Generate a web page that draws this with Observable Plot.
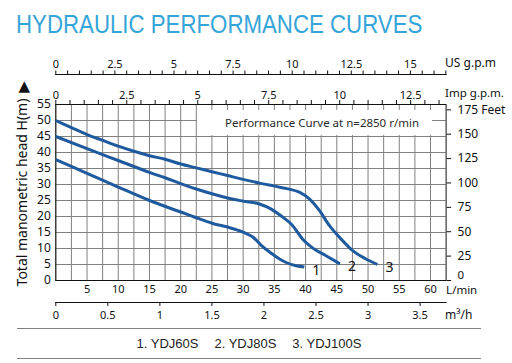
<!DOCTYPE html>
<html><head><meta charset="utf-8">
<script src="https://cdn.jsdelivr.net/npm/d3@7"></script>
<script src="https://cdn.jsdelivr.net/npm/@observablehq/plot@0.6"></script>
<style>
body{margin:0;background:#fff;}
#wrap{position:relative;width:512px;height:363px;overflow:hidden;font-family:"Noto Sans",sans-serif;background:#fff;}
#title{position:absolute;left:16px;top:12px;font:25px/25px "Liberation Sans",Arial,sans-serif;color:#35a4d8;white-space:nowrap;transform:scaleX(0.89);transform-origin:0 0;}
#chart{position:absolute;left:0;top:0;}
#note{position:absolute;left:197px;top:110px;width:235px;height:25px;background:#fff;box-sizing:border-box;padding-left:28px;font-size:11.5px;line-height:25px;color:#2a2a2a;white-space:nowrap;}
#legend{position:absolute;left:17px;top:328px;width:464px;height:29px;border-top:1px solid #808080;border-bottom:1px solid #808080;text-align:center;font:13px/29px "Liberation Sans",Arial,sans-serif;color:#222;white-space:nowrap;}
#legend span{margin:0 8px;}
</style></head>
<body><div id="wrap">
<div id="title">HYDRAULIC PERFORMANCE CURVES</div>
<div id="chart"></div>
<div id="note">Performance Curve at n=2850 r/min</div>
<div id="legend"></div>
</div>
<script>
// ---- data ----
const curveLabels = ["1", "2", "3"];
const modelNames = ["YDJ60S", "YDJ80S", "YDJ100S"];
const noteText = "Performance Curve at n=2850 r/min";

const flow1 = [0, 5, 10, 15, 20, 22.5, 25, 27.5, 30, 31.6, 32.9, 34.5, 36.8, 38.5, 39.8];
const head1 = [37.8, 33.5, 29.2, 25.0, 21.4, 19.6, 17.9, 16.7, 15.1, 13.5, 11.0, 8.5, 5.7, 4.6, 4.2];
const flow2 = [0, 5, 10, 15, 17.5, 20, 22.5, 25, 27.5, 30, 32.5, 34.5, 36, 37.9, 39.5, 41.1, 43.2, 45.5];
const head2 = [45, 41.2, 37.5, 33.8, 32.1, 30.3, 28.6, 27.1, 25.8, 24.8, 24.0, 22.3, 20.3, 17.2, 13.0, 10.2, 7.8, 5.2];
const flow3 = [0, 2.5, 5, 7.5, 10, 12.5, 15, 17.5, 20, 22.5, 25, 27.5, 30, 32.5, 35, 37, 39, 40.6, 42.2, 43.8, 45.9, 47.5, 49.6, 51.5];
const head3 = [50, 47.8, 45.6, 43.8, 42, 40.4, 39, 37.9, 36.4, 35.2, 34, 32.8, 31.6, 30.5, 29.5, 28.7, 27.6, 25.5, 21.9, 17.2, 12.5, 9.4, 6.8, 5];

const lpmTicks = [5, 10, 15, 20, 25, 30, 35, 40, 45, 50, 55, 60];
const lpmGrid = [0, 2.5, 5, 7.5, 10, 12.5, 15, 17.5, 20, 22.5, 25, 27.5, 30, 32.5, 35, 37.5, 40, 42.5, 45, 47.5, 50, 52.5, 55, 57.5, 60];
const headTicks = [0, 5, 10, 15, 20, 25, 30, 35, 40, 45, 50, 55];
const feetTicks = [0, 25, 50, 75, 100, 125, 150, 175];
const m3hTicks = [0, 0.5, 1, 1.5, 2, 2.5, 3, 3.5];
const usGpmTicks = [0, 0.5, 1, 1.5, 2, 2.5, 3, 3.5, 4, 4.5, 5, 5.5, 6, 6.5, 7, 7.5, 8, 8.5, 9, 9.5, 10, 10.5, 11, 11.5, 12, 12.5, 13, 13.5, 14, 14.5, 15, 15.5, 16, 16.5];
const usGpmLabels = [0, 2.5, 5, 7.5, 10, 12.5, 15];
const impGpmTicks = [0, 0.5, 1, 1.5, 2, 2.5, 3, 3.5, 4, 4.5, 5, 5.5, 6, 6.5, 7, 7.5, 8, 8.5, 9, 9.5, 10, 10.5, 11, 11.5, 12, 12.5, 13, 13.5];
const impGpmLabels = [0, 2.5, 5, 7.5, 10, 12.5];

// unit conversions
const L_PER_USGAL = 3.78541, L_PER_IMPGAL = 4.54609, M_PER_FT = 0.3048, LPM_PER_M3H = 1000 / 60;

const series = [[flow1, head1], [flow2, head2], [flow3, head3]];
const rows = series.flatMap(([f, h], i) => f.map((q, j) => ({q, h: h[j], curve: curveLabels[i]})));
const ends = series.map(([f, h], i) => ({q: f[f.length - 1], h: h[h.length - 1], label: curveLabels[i]}));

const blue = "#1f5a9e";

const chart = Plot.plot({
  width: 512, height: 363,
  marginTop: 104, marginBottom: 83, marginLeft: 55.3, marginRight: 66.4,
  x: {domain: [0, 62.5], axis: null},
  y: {domain: [0, 55], axis: null},
  style: {fontFamily: "'Noto Sans', sans-serif", fontSize: "11px", background: "transparent", color: "#111", overflow: "visible"},
  marks: [
    Plot.gridX(lpmGrid, {stroke: "#808080", strokeOpacity: 1, strokeWidth: 1}),
    Plot.gridY(headTicks, {stroke: "#808080", strokeOpacity: 1, strokeWidth: 1}),
    Plot.frame({stroke: "#111", strokeWidth: 1}),
    // left head axis (m)
    Plot.axisY({anchor: "left", ticks: headTicks, tickSize: 0, tickPadding: 5, fontSize: 12, label: null}),
    Plot.text(["Total manometric head H(m)"], {frameAnchor: "left", textAnchor: "middle", lineAnchor: "middle", rotate: -90, dx: -33, fontSize: 14, fill: "#111"}),
    Plot.text(["▲"], {frameAnchor: "top-left", textAnchor: "middle", lineAnchor: "middle", dx: -31.5, dy: -18.5, fontSize: 15, fontFamily: "DejaVu Sans", fill: "#111"}),
    // right feet axis
    Plot.axisY({anchor: "right", ticks: feetTicks.map(f => f * M_PER_FT), tickSize: 4.5, tickPadding: 7, fontSize: 12, label: null,
      tickFormat: (d, i) => feetTicks[i] === 0 ? "" : feetTicks[i] === 175 ? "175 Feet" : String(feetTicks[i])}),
    Plot.text(feetTicks.filter(f => f === 0), {y: f => f * M_PER_FT, text: f => String(f), frameAnchor: "right", textAnchor: "start", lineAnchor: "middle", dx: 11.5, dy: -5, fontSize: 11.5, fill: "#111"}),
    // bottom L/min axis
    Plot.axisX({anchor: "bottom", ticks: lpmTicks, tickSize: 0, tickPadding: 5, label: null}),
    Plot.text(["L/min"], {frameAnchor: "bottom-right", textAnchor: "start", lineAnchor: "top", dx: 0, dy: 5.5, fontSize: 11.5, fill: "#111"}),
    // m3/h axis
    Plot.frame({anchor: "bottom", dy: 22, stroke: "#111"}),
    Plot.axisX({anchor: "bottom", dy: 22, ticks: m3hTicks.map(v => v * LPM_PER_M3H), tickSize: 4, tickPadding: 5, label: null,
      tickFormat: (d, i) => String(m3hTicks[i])}),
    Plot.text(["m³/h"], {frameAnchor: "bottom-right", textAnchor: "start", lineAnchor: "middle", dx: -1, dy: 35, fontSize: 12, fill: "#111"}),
    // Imp gpm axis (top frame)
    Plot.axisX({anchor: "top", ticks: impGpmTicks.map(v => v * L_PER_IMPGAL), tickSize: 5, tickPadding: 1, label: null,
      tickFormat: (d, i) => impGpmLabels.includes(impGpmTicks[i]) ? String(impGpmTicks[i]) : ""}),
    Plot.text(["Imp g.p.m."], {frameAnchor: "top-right", textAnchor: "start", lineAnchor: "middle", dx: -1, dy: -11, fontSize: 11.5, fill: "#111"}),
    // US gpm axis
    Plot.frame({anchor: "top", dy: -30, stroke: "#111"}),
    Plot.axisX({anchor: "top", dy: -30, ticks: usGpmTicks.map(v => v * L_PER_USGAL), tickSize: 4.5, tickPadding: 2, label: null,
      tickFormat: (d, i) => usGpmLabels.includes(usGpmTicks[i]) ? String(usGpmTicks[i]) : ""}),
    Plot.text(["US g.p.m"], {frameAnchor: "top-right", textAnchor: "start", lineAnchor: "middle", dx: -1, dy: -41, fontSize: 12, fill: "#111"}),
    // curves
    Plot.line(rows, {x: "q", y: "h", z: "curve", stroke: blue, strokeWidth: 3, curve: "monotone-x", strokeLinecap: "butt"}),
    Plot.text(ends, {x: "q", y: "h", text: "label", dx: 12, dy: 3, fontSize: 14, fill: "#111"})
  ]
});
document.getElementById("chart").appendChild(chart);
document.getElementById("note").textContent = noteText;
document.getElementById("legend").innerHTML = modelNames.map((m, i) => `<span>${curveLabels[i]}. ${m}</span>`).join("");
</script>
</body></html>
